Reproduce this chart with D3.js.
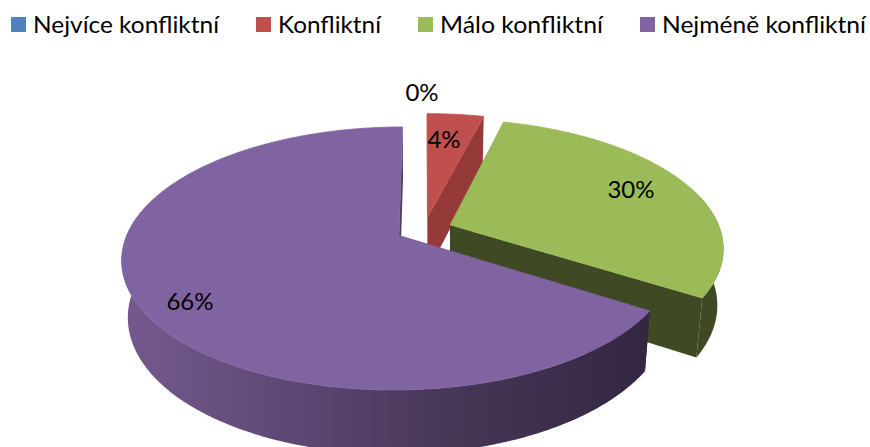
<!DOCTYPE html>
<html><head><meta charset="utf-8">
<style>html,body{margin:0;padding:0;background:#fff;overflow:hidden}svg{display:block}text{font-family:Lato,"Open Sans",sans-serif;fill:#000}</style>
<script src="https://cdn.jsdelivr.net/npm/d3@7/dist/d3.min.js"></script></head>
<body><svg id="c" width="870" height="447"></svg>
<script>
const categories = ["Nejvíce konfliktní","Konfliktní","Málo konfliktní","Nejméně konfliktní"];
const values = [0,4,30,66];
const labels = ["0%","4%","30%","66%"];
const topColors = ["#4f81bd","#c0504d","#9bbb59","#8064a2"];
const wallColors = ["#2c4d75","#953a38","#3f4923","url(#pw)"];

const svg=d3.select("#c");
const cam={cx:424,cy:229.5,A:270,B:125.4,p:0.1726,T:57,q:0.02,explodeX:0.105,explodeV:0.1};
const TAU=Math.PI*2;
const arcs=d3.pie().sort(null).value(d=>d).startAngle(0).endAngle(TAU)(values);

function project(X,V,h){
  const d=1-cam.p*V+cam.q*h;
  return [cam.cx+cam.A*X/d, cam.cy+(cam.B*V+cam.T*h)/d];
}
function pt(a,ang,r,h){
  const mid=(a.startAngle+a.endAngle)/2;
  const ox=cam.explodeX*Math.sin(mid), oy=-cam.explodeV*Math.cos(mid);
  return project(ox+r*Math.sin(ang),oy-r*Math.cos(ang),h);
}
const line=d3.line().curve(d3.curveLinear);
function angles(a0,a1){
  const n=Math.max(2,Math.ceil((a1-a0)/0.01));
  return d3.range(n+1).map(i=>a0+(a1-a0)*i/n);
}

const defs=svg.append("defs");
const g=defs.append("linearGradient").attr("id","pw").attr("gradientUnits","userSpaceOnUse")
  .attr("x1",120).attr("x2",645).attr("y1",0).attr("y2",0);
[[0,"#75598f"],[0.3,"#5f4a77"],[0.6,"#483859"],[1,"#332742"]].forEach(s=>g.append("stop").attr("offset",s[0]).attr("stop-color",s[1]));

const layer=svg.append("g");
arcs.forEach((a,i)=>{
  if(a.value===0) return;
  const s=layer.append("g");
  const wall=wallColors[i];
  [a.startAngle,a.endAngle].forEach(ang=>{
    s.append("path").attr("d",line([pt(a,ang,0,0),pt(a,ang,1,0),pt(a,ang,1,1),pt(a,ang,0,1)])+"Z").attr("fill",wall);
  });
  const f0=Math.max(a.startAngle,Math.PI/2-0.3), f1=Math.min(a.endAngle,Math.PI*1.5+0.3);
  if(f1>f0){
    const as=angles(f0,f1);
    s.append("path").attr("d",line(as.map(t=>pt(a,t,1,0)).concat(as.slice().reverse().map(t=>pt(a,t,1,1))))+"Z").attr("fill",wall);
  }
  s.append("path").attr("d",line([pt(a,a.startAngle,0,0)].concat(angles(a.startAngle,a.endAngle).map(t=>pt(a,t,1,0))))+"Z")
    .attr("fill",topColors[i]).attr("stroke",topColors[i]).attr("stroke-width",0.8);
});

const labelPos=[[422,93],[444,140],[631,190],[190,302]];
svg.selectAll("text.dl").data(labels).join("text").attr("class","dl")
  .attr("x",(d,i)=>labelPos[i][0]).attr("y",(d,i)=>labelPos[i][1]+8)
  .attr("text-anchor","middle").attr("font-size",24).text(d=>d);

const legendX=[11,256,418,640];
const legendW=[186,103,163,204];
const lg=svg.selectAll("g.lg").data(categories).join("g").attr("class","lg");
lg.append("rect").attr("x",(d,i)=>legendX[i]).attr("y",17).attr("width",15).attr("height",15).attr("fill",(d,i)=>topColors[i]);
lg.append("text").attr("x",(d,i)=>legendX[i]+22).attr("y",33).attr("font-size",24)
  .attr("textLength",(d,i)=>legendW[i]).attr("lengthAdjust","spacingAndGlyphs").text(d=>d);
</script></body></html>
